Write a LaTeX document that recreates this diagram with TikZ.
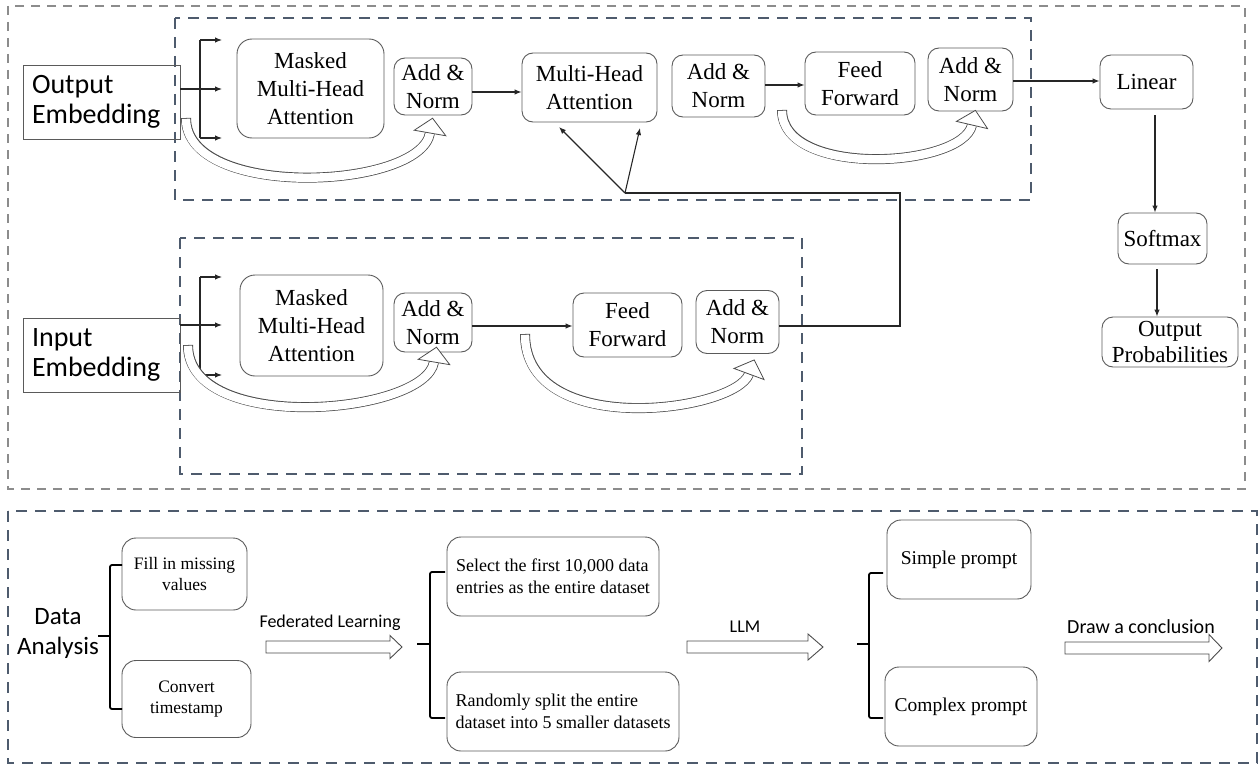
\documentclass[tikz,border=0pt]{standalone}
\usepackage{fontspec}
\setmainfont{Liberation Serif}
\newfontfamily\calibfont{Carlito}
\usetikzlibrary{calc,arrows.meta}
\definecolor{slate}{HTML}{4E5B6D}
\definecolor{dgray}{HTML}{8C8C8C}
\definecolor{boxline}{HTML}{5A5A5A}
% hollow curved arrow: start, control 1, control 2, end (base of head)
\newcommand\curvehollow[4]{%
  \draw[line width=10pt, draw=black!70] #1 .. controls #2 and #3 .. #4;
  \draw[line width=8.4pt, draw=white, shorten <=0.8pt] #1 .. controls #2 and #3 .. #4;
  \draw[draw=black!70, fill=white, line width=0.8pt, line join=miter]
    ($#4!16pt!90:#3$) -- ($#4!-15pt!#3$) -- ($#4!16pt!-90:#3$) -- cycle;}
% hollow straight arrow: x start, x head base, x tip, y centre, half body, half head
\newcommand\flatarrow[6]{%
  \draw[harrow] (#1,#4-#5) -- (#2,#4-#5) -- (#2,#4-#6) -- (#3,#4) -- (#2,#4+#6) -- (#2,#4+#5) -- (#1,#4+#5) -- cycle;}
\begin{document}
\begin{tikzpicture}[x=1pt,y=-1pt,
  box/.style={draw=boxline, line width=0.9pt, rounded corners=11pt, align=center, inner sep=0pt, font=\fontsize{23}{28}\selectfont},
  ebox/.style={draw=boxline, line width=0.9pt, inner xsep=9pt, inner ysep=0pt, text width=139pt, align=left, font=\calibfont\fontsize{28}{30}\selectfont},
  lbox/.style={draw=boxline, line width=0.9pt, rounded corners=14pt, inner sep=0pt, font=\fontsize{18}{22}\selectfont},
  line/.style={draw=black!85, line width=1.1pt},
  arr/.style={line, -{Latex[length=7pt,width=5.5pt]}},
  brk/.style={draw=black, line width=1.8pt, rounded corners=2pt},
  outerdash/.style={draw=dgray, line width=1.4pt, dash pattern=on 9pt off 7pt},
  innerdash/.style={draw=slate, line width=2.4pt, dash pattern=on 11pt off 8pt},
  harrow/.style={draw=black!70, line width=0.9pt, fill=white, line join=miter},
  lab/.style={font=\calibfont\fontsize{18}{22}\selectfont, inner sep=0pt, anchor=base},
]
\useasboundingbox (0,0) rectangle (1260,765);

% ---------- frames ----------
\draw[outerdash] (8,6) rectangle (1245,489);
\draw[innerdash] (175,18) rectangle (1031,200);
\draw[innerdash] (180,238) rectangle (802,474);
\draw[innerdash] (8,511) rectangle (1257,763);

% ---------- decoder (top) ----------
\node[ebox, minimum height=74pt] (outemb) at (101.5,102) {Output\\Embedding};
\node[box, minimum width=147pt, minimum height=99pt, rounded corners=15pt] (mmha1) at (310.5,88.5) {Masked\\Multi-Head\\Attention};
\node[box, minimum width=78pt, minimum height=57pt] (an1) at (433,86.5) {Add \&\\Norm};
\node[box, minimum width=135pt, minimum height=69pt] (mha) at (589.5,87.5) {Multi-Head\\Attention};
\node[box, minimum width=93pt, minimum height=62pt] (an2) at (718.5,86) {Add \&\\Norm};
\node[box, minimum width=110pt, minimum height=63pt] (ff1) at (860,83.5) {Feed\\Forward};
\node[box, minimum width=85pt, minimum height=63pt] (an3) at (970.5,79.5) {Add \&\\Norm};
\node[box, minimum width=93pt, minimum height=54pt] (linear) at (1146.5,82) {Linear};
\node[box, minimum width=89pt, minimum height=51pt] (softmax) at (1162.5,238.5) {Softmax};
\node[box, minimum width=136pt, minimum height=50pt, font=\fontsize{23}{26.5}\selectfont] (outprob) at (1170,342) {Output\\Probabilities};

% branch into masked attention
\coordinate (oa1) at (222,40);
\coordinate (oa2) at (222,89);
\coordinate (oa3) at (222,138);
\draw[line] (200,40) -- (200,138);
\draw[arr] (200,40) -- (oa1);
\draw[arr] (200,138) -- (oa3);
\draw[arr] (outemb.east |- oa2) -- (oa2);

\draw[arr] (an1.east |- 0,92) -- (mha.west |- 0,92);
\draw[arr] (an2.east |- 0,85) -- (ff1.west |- 0,85);
\draw[arr] (an3.east |- 0,81) -- (linear.west |- 0,81);
\draw[arr, shorten <=6pt] (linear.south -| 1155,0) -- (softmax.north -| 1155,0);
\draw[arr, shorten <=5pt] (softmax.south -| 1157,0) -- (outprob.north -| 1157,0);

% residual hollow arrows (top)
\curvehollow{(186,118)}{(186,200)}{(420,190)}{(430,133)}
\curvehollow{(782,110)}{(782,178)}{(962,168)}{(972,125)}

% ---------- encoder (middle) ----------
\node[ebox, minimum height=74pt] (inemb) at (101.5,355) {Input\\Embedding};
\node[box, minimum width=143pt, minimum height=101pt, rounded corners=15pt] (mmha2) at (311.5,325.5) {Masked\\Multi-Head\\Attention};
\node[box, minimum width=78pt, minimum height=59pt] (an4) at (433,322.5) {Add \&\\Norm};
\node[box, minimum width=109pt, minimum height=64pt] (ff2) at (627.5,325) {Feed\\Forward};
\node[box, minimum width=83pt, minimum height=63pt] (an5) at (737.5,322) {Add \&\\Norm};

\coordinate (ia1) at (222,277);
\coordinate (ia2) at (222,325);
\coordinate (ia3) at (222,375);
\draw[line] (200,277) -- (200,375);
\draw[arr] (200,277) -- (ia1);
\draw[arr] (200,375) -- (ia3);
\draw[arr] (inemb.east |- ia2) -- (ia2);

\draw[arr] (an4.east |- 0,326) -- (ff2.west |- 0,326);

\curvehollow{(188,345)}{(188,435)}{(425,415)}{(434,362)}
\curvehollow{(525,334)}{(525,440)}{(735,412)}{(749,374)}

% encoder output to decoder attention
\coordinate (fbc) at (900,193);
\coordinate (fb) at (625,193);
\coordinate (fbt1) at (559,127);
\coordinate (fbt2) at (640,128);
\draw[line] (an5.east |- 0,326) -- (900,326) -- (fbc) -- (fb);
\draw[arr] (fb) -- (fbt1);
\draw[arr] (fb) -- (fbt2);

% ---------- pipeline (bottom) ----------
\node[font=\calibfont\fontsize{25}{30}\selectfont, align=center, inner sep=0pt] (da) at (58,633) {Data\\Analysis};
\node[lbox, minimum width=125pt, minimum height=72pt, align=center, font=\fontsize{17.5}{21}\selectfont] (fill) at (184.5,574) {Fill in missing\\values};
\node[lbox, minimum width=129pt, minimum height=77pt, align=center, font=\fontsize{17.5}{21}\selectfont] (conv) at (186.5,699) {Convert\\timestamp};
\node[lbox, minimum width=212pt, minimum height=79pt, align=left] (select) at (553,576.5) {Select the first 10,000 data\\entries as the entire dataset};
\node[lbox, minimum width=232pt, minimum height=79pt, align=left] (rand) at (563,711.5) {Randomly split the entire\\dataset into 5 smaller datasets};
\node[lbox, minimum width=144pt, minimum height=79pt, font=\fontsize{19.5}{22}\selectfont] (simple) at (959,559.5) {Simple prompt};
\node[lbox, minimum width=152pt, minimum height=79pt, font=\fontsize{19.5}{22}\selectfont] (complex) at (961,706.5) {Complex prompt};

% brackets
\draw[brk] (122,565) -- (110,565) -- (110,709) -- (122,709);
\draw[brk] (110,636) -- (98,636);
\draw[brk] (445,572) -- (430,572) -- (430,718) -- (445,718);
\draw[brk] (430,644) -- (417,644);
\draw[brk] (883,573) -- (869,573) -- (869,718) -- (883,718);
\draw[brk] (869,644) -- (857,644);

% hollow flow arrows and labels
\flatarrow{266}{390}{402}{647}{6}{11.5}
\node[lab] (fl) at (330,627) {Federated Learning};
\flatarrow{687}{808}{823}{647}{6}{13}
\node[lab] (llm) at (745,632) {LLM};
\flatarrow{1065}{1209}{1222}{648}{6}{13.5}
\node[lab, font=\calibfont\fontsize{20}{24}\selectfont] (dc) at (1141,633) {Draw a conclusion};
\end{tikzpicture}
\end{document}
